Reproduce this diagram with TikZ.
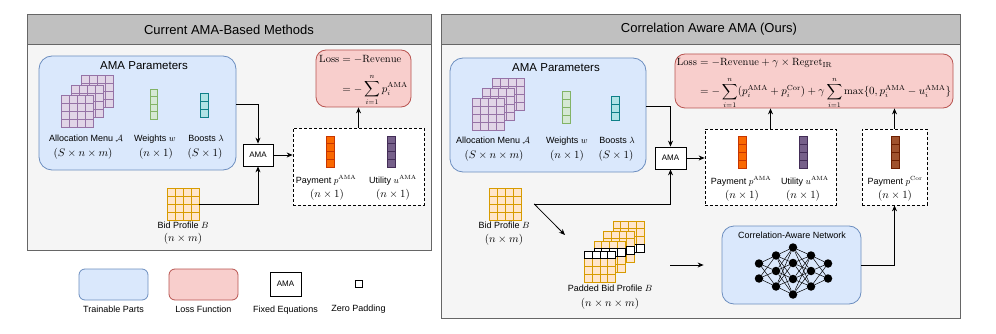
\documentclass[tikz,border=0pt]{standalone}
\usepackage{amsmath}
\usepackage{fontspec}
\setsansfont{Liberation Sans}
\usetikzlibrary{positioning}
\usetikzlibrary{arrows.meta}

\definecolor{panelline}{HTML}{666666}
\definecolor{panelbg}{HTML}{F5F5F5}
\definecolor{headbg}{HTML}{C0C0C0}
\definecolor{trainfill}{HTML}{DAE8FC}
\definecolor{trainline}{HTML}{6C8EBF}
\definecolor{lossfill}{HTML}{F8CECC}
\definecolor{lossline}{HTML}{B85450}
\definecolor{menufill}{HTML}{E1D5E7}
\definecolor{menuline}{HTML}{9673A6}
\definecolor{wfill}{HTML}{D5E8D4}
\definecolor{wline}{HTML}{82B366}
\definecolor{bfill}{HTML}{B0E3E6}
\definecolor{bline}{HTML}{0E8088}
\definecolor{bidfill}{HTML}{FFE6CC}
\definecolor{bidline}{HTML}{D79B00}
\definecolor{payfill}{HTML}{FA6800}
\definecolor{payline}{HTML}{C73500}
\definecolor{utilfill}{HTML}{76608A}
\definecolor{utilline}{HTML}{432D57}
\definecolor{corfill}{HTML}{A0522D}
\definecolor{corline}{HTML}{6D1F00}

\tikzset{
    panel/.style={draw=panelline, fill=panelbg, line width=0.8pt},
    panelhead/.style={draw=panelline, fill=headbg, line width=0.8pt},
    paneltitle/.style={font=\sffamily\fontsize{13}{15}\selectfont},
    trainbox/.style={draw=trainline, fill=trainfill, rounded corners=13pt, line width=0.8pt},
    lossbox/.style={draw=lossline, fill=lossfill, rounded corners=10pt, line width=0.8pt},
    amabox/.style={draw=black, fill=white, line width=0.8pt, minimum width=30pt, minimum height=22pt, inner sep=0pt, font=\sffamily\fontsize{8}{9}\selectfont},
    outbox/.style={draw=black, fill=white, dash pattern=on 3pt off 2pt, line width=0.7pt},
    boxtitle/.style={font=\sffamily\fontsize{11.5}{13}\selectfont, inner sep=0pt},
    lbl/.style={font=\sffamily\fontsize{9}{10}\selectfont, inner sep=0pt, text height=6.6pt, text depth=1.9pt},
    dim/.style={font=\fontsize{10.5}{12}\selectfont, inner sep=0pt, text height=7.9pt, text depth=2.6pt},
    losstxt/.style={font=\fontsize{10.5}{12.6}\selectfont, inner sep=0pt},
    arr/.style={-{Stealth[length=6pt,width=5pt]}, line width=0.8pt},
    menucell/.style={draw=menuline, fill=menufill, line width=0.7pt},
    wcell/.style={draw=wline, fill=wfill, line width=0.7pt},
    bcell/.style={draw=bline, fill=bfill, line width=0.7pt},
    bidcell/.style={draw=bidline, fill=bidfill, line width=0.7pt},
    padcell/.style={draw=black, fill=white, line width=0.8pt},
    paycell/.style={draw=payline, fill=payfill, line width=0.7pt},
    utilcell/.style={draw=utilline, fill=utilfill, line width=0.7pt},
    corcell/.style={draw=corline, fill=corfill, line width=0.7pt},
    gridbox/.style={inner sep=0pt, minimum width=32pt, minimum height=32pt},
    neuron/.style={circle, fill=black, inner sep=0pt, minimum size=8.5pt},
    nnedge/.style={line width=0.5pt}
}

% grid of cells: x, y (top left), cols, rows, cell size, style
\newcommand{\cellgrid}[6]{%
    \foreach \c in {1,...,#3}{\foreach \r in {1,...,#4}{%
        \draw[#6] ({#1+(\c-1)*#5},{#2+(\r-1)*#5}) rectangle ++(#5,#5);}}}

\begin{document}
\begin{tikzpicture}[x=1pt, y=-1pt]
    \useasboundingbox (0,0) rectangle (996,334);

    % left panel
    \draw[panel] (27,14) rectangle (431,250);
    \draw[panelhead] (27,14) rectangle (431,44.5);
    \node[paneltitle] (titleL) at (229,29.5) {Current AMA-Based Methods};

    \node[trainbox, minimum width=197pt, minimum height=114pt] (paramsL) at (137.5,113) {};
    \node[boxtitle] (paramsLtxt) at (144,66) {AMA Parameters};
    \cellgrid{81}{75}{4}{4}{8}{menucell}
    \cellgrid{71}{85}{4}{4}{8}{menucell}
    \cellgrid{61}{95}{4}{4}{8}{menucell}
    \cellgrid{150}{89}{1}{4}{7.5}{wcell}
    \cellgrid{200}{93}{1}{3}{8}{bcell}
    \node[lbl] (menuL) at (86,139) {Allocation Menu $\mathcal{A}$};
    \node[lbl] (weightL) at (155,139) {Weights $w$};
    \node[lbl] (boostL) at (206,139) {Boosts $\lambda$};
    \node[dim] (menuLdim) at (83,154) {$(S\times n\times m)$};
    \node[dim] (weightLdim) at (156,154) {$(n\times 1)$};
    \node[dim] (boostLdim) at (205,154) {$(S\times 1)$};

    \node[amabox] (amaL) at (258,155) {AMA};

    \node[gridbox] (bidL) at (183,204) {};
    \cellgrid{167}{188}{4}{4}{8}{bidcell}
    \node[lbl] (bidLtxt) at (183,226) {Bid Profile $B$};
    \node[dim] (bidLdim) at (183,239) {$(n\times m)$};

    \node[outbox, minimum width=131pt, minimum height=77pt] (outL) at (358.5,166.5) {};
    \cellgrid{326.5}{136}{1}{4}{7.75}{paycell}
    \cellgrid{387.5}{136}{1}{4}{7.75}{utilcell}
    \node[lbl] (payL) at (326,181) {Payment $p^{\mathrm{AMA}}$};
    \node[lbl] (utilL) at (393,181) {Utility $u^{\mathrm{AMA}}$};
    \node[dim] (payLdim) at (327,195) {$(n\times 1)$};
    \node[dim] (utilLdim) at (393,195) {$(n\times 1)$};

    \node[lossbox, minimum width=95pt, minimum height=57pt] (lossL) at (363.5,78.5) {};
    \node[losstxt] (lossLtxt) at (363.5,80) {$\begin{aligned}
        \mathrm{Loss} &= -\mathrm{Revenue}\\[4pt]
        &= -\sum_{i=1}^{n} p_i^{\mathrm{AMA}}
    \end{aligned}$};

    \draw[arr] ([yshift=9pt]paramsL.east) -| (amaL.north);
    \draw[arr] (bidL.east) -| (amaL.south);
    \draw[arr] (amaL.east) -- (amaL.east -| outL.west);
    \draw[arr] (outL.north) -- (outL.north |- lossL.south);

    % right panel
    \draw[panel] (441,14) rectangle (960,318);
    \draw[panelhead] (441,14) rectangle (960,44.5);
    \node[paneltitle] (titleR) at (709,29.5) {Correlation Aware AMA (Ours)};

    \node[trainbox, minimum width=196pt, minimum height=114pt] (paramsR) at (548,115) {};
    \node[boxtitle] (paramsRtxt) at (556,68) {AMA Parameters};
    \cellgrid{492}{78}{4}{4}{8}{menucell}
    \cellgrid{482}{88}{4}{4}{8}{menucell}
    \cellgrid{472}{98}{4}{4}{8}{menucell}
    \cellgrid{562}{91}{1}{4}{8}{wcell}
    \cellgrid{611}{96}{1}{3}{8}{bcell}
    \node[lbl] (menuR) at (493,141) {Allocation Menu $\mathcal{A}$};
    \node[lbl] (weightR) at (567,141) {Weights $w$};
    \node[lbl] (boostR) at (617,141) {Boosts $\lambda$};
    \node[dim] (menuRdim) at (494,156) {$(S\times n\times m)$};
    \node[dim] (weightRdim) at (567,156) {$(n\times 1)$};
    \node[dim] (boostRdim) at (616,156) {$(S\times 1)$};

    \node[amabox, minimum width=31pt] (amaR) at (670.5,158) {AMA};

    \node[gridbox] (bidR) at (505,204) {};
    \cellgrid{489}{188}{4}{4}{8}{bidcell}
    \node[lbl] (bidRtxt) at (504,226) {Bid Profile $B$};
    \node[dim] (bidRdim) at (504,240) {$(n\times m)$};
    \coordinate (bidRout) at ([xshift=13pt]bidR.east);
    \coordinate (padIn) at (565,235);

    % padded bid profiles, row k of grid k is zero
    \foreach \k/\px/\py in {4/613/221, 3/603.5/231, 2/594/241, 1/584.5/251}{
        \cellgrid{\px}{\py}{4}{4}{7.75}{bidcell}
        \cellgrid{\px}{\py+(\k-1)*7.75}{4}{1}{7.75}{padcell}
    }
    \node[lbl] (padRtxt) at (610,289) {Padded Bid Profile $B$};
    \node[dim] (padRdim) at (610,304) {$(n\times n\times m)$};
    \coordinate (padOut) at (670,265);

    \node[trainbox, rounded corners=12pt, minimum width=139pt, minimum height=78pt] (nnR) at (791.5,265) {};
    \node[lbl] (nnRtxt) at (792,236) {Correlation-Aware Network};
    \foreach \l/\x/\ys in {1/759/{263.5,278.5}, 2/776/{255.5,271,286.5}, 3/793/{247.5,263,279,294.5}, 4/811/{255.5,271,286.5}, 5/828/{263.5,278.5}}{
        \foreach \y [count=\i] in \ys {\node[neuron] (n\l-\i) at (\x,\y) {};}
    }
    \foreach \a/\na/\b/\nb in {1/2/2/3, 2/3/3/4, 3/4/4/3, 4/3/5/2}{
        \foreach \i in {1,...,\na}{\foreach \j in {1,...,\nb}{\draw[nnedge] (n\a-\i) -- (n\b-\j);}}
    }

    \node[outbox, minimum width=131pt, minimum height=76pt] (out1R) at (770.5,167) {};
    \cellgrid{738}{136}{1}{4}{8}{paycell}
    \cellgrid{799}{136}{1}{4}{8}{utilcell}
    \node[lbl] (payR) at (741,182) {Payment $p^{\mathrm{AMA}}$};
    \node[lbl] (utilR) at (805,182) {Utility $u^{\mathrm{AMA}}$};
    \node[dim] (payRdim) at (742,196) {$(n\times 1)$};
    \node[dim] (utilRdim) at (803,196) {$(n\times 1)$};

    \node[outbox, minimum width=65pt, minimum height=76pt] (out2R) at (894.5,167) {};
    \cellgrid{891}{136}{1}{4}{8}{corcell}
    \node[lbl] (corR) at (895,182) {Payment $p^{\mathrm{Cor}}$};
    \node[dim] (corRdim) at (895,196) {$(n\times 1)$};

    \node[lossbox, minimum width=278pt, minimum height=54pt] (lossR) at (814,81) {};
    \node[losstxt] (lossRtxt) at (814,82.5) {$\begin{aligned}
        \mathrm{Loss} &= -\mathrm{Revenue} + \gamma\times\mathrm{Regret}_{\mathrm{IR}}\\[4pt]
        &= -\sum_{i=1}^{n}(p_i^{\mathrm{AMA}} + p_i^{\mathrm{Cor}}) + \gamma\sum_{i=1}^{n}\max\{0, p_i^{\mathrm{AMA}} - u_i^{\mathrm{AMA}}\}
    \end{aligned}$};

    \draw[arr] ([yshift=9pt]paramsR.east) -| (amaR.north);
    \draw[arr] (bidRout) -| (amaR.south);
    \draw[arr] (bidRout) -- (padIn);
    \draw[arr, shorten >=18pt] (padOut) -- (padOut -| nnR.west);
    \draw[arr] (amaR.east) -- (amaR.east -| out1R.west);
    \draw[arr] (out1R.north) -- (out1R.north |- lossR.south);
    \draw[arr] (out2R.north) -- (out2R.north |- lossR.south);
    \draw[arr] (nnR.east) -| (out2R.south);

    % legend
    \node[trainbox, rounded corners=6pt, minimum width=69pt, minimum height=31pt] (legT) at (113.5,284.5) {};
    \node[lossbox, rounded corners=6pt, minimum width=69pt, minimum height=31pt] (legL) at (203.5,284.5) {};
    \node[amabox, minimum width=31pt, minimum height=24pt] (legA) at (285.5,284) {AMA};
    \node[padcell, minimum size=7pt, inner sep=0pt] (legZ) at (358.5,283.5) {};
    \node[lbl] (legTtxt) at (113.5,310) {Trainable Parts};
    \node[lbl] (legLtxt) at (203.5,310) {Loss Function};
    \node[lbl] (legAtxt) at (285.5,310) {Fixed Equations};
    \node[lbl] (legZtxt) at (358.5,309) {Zero Padding};
\end{tikzpicture}
\end{document}
